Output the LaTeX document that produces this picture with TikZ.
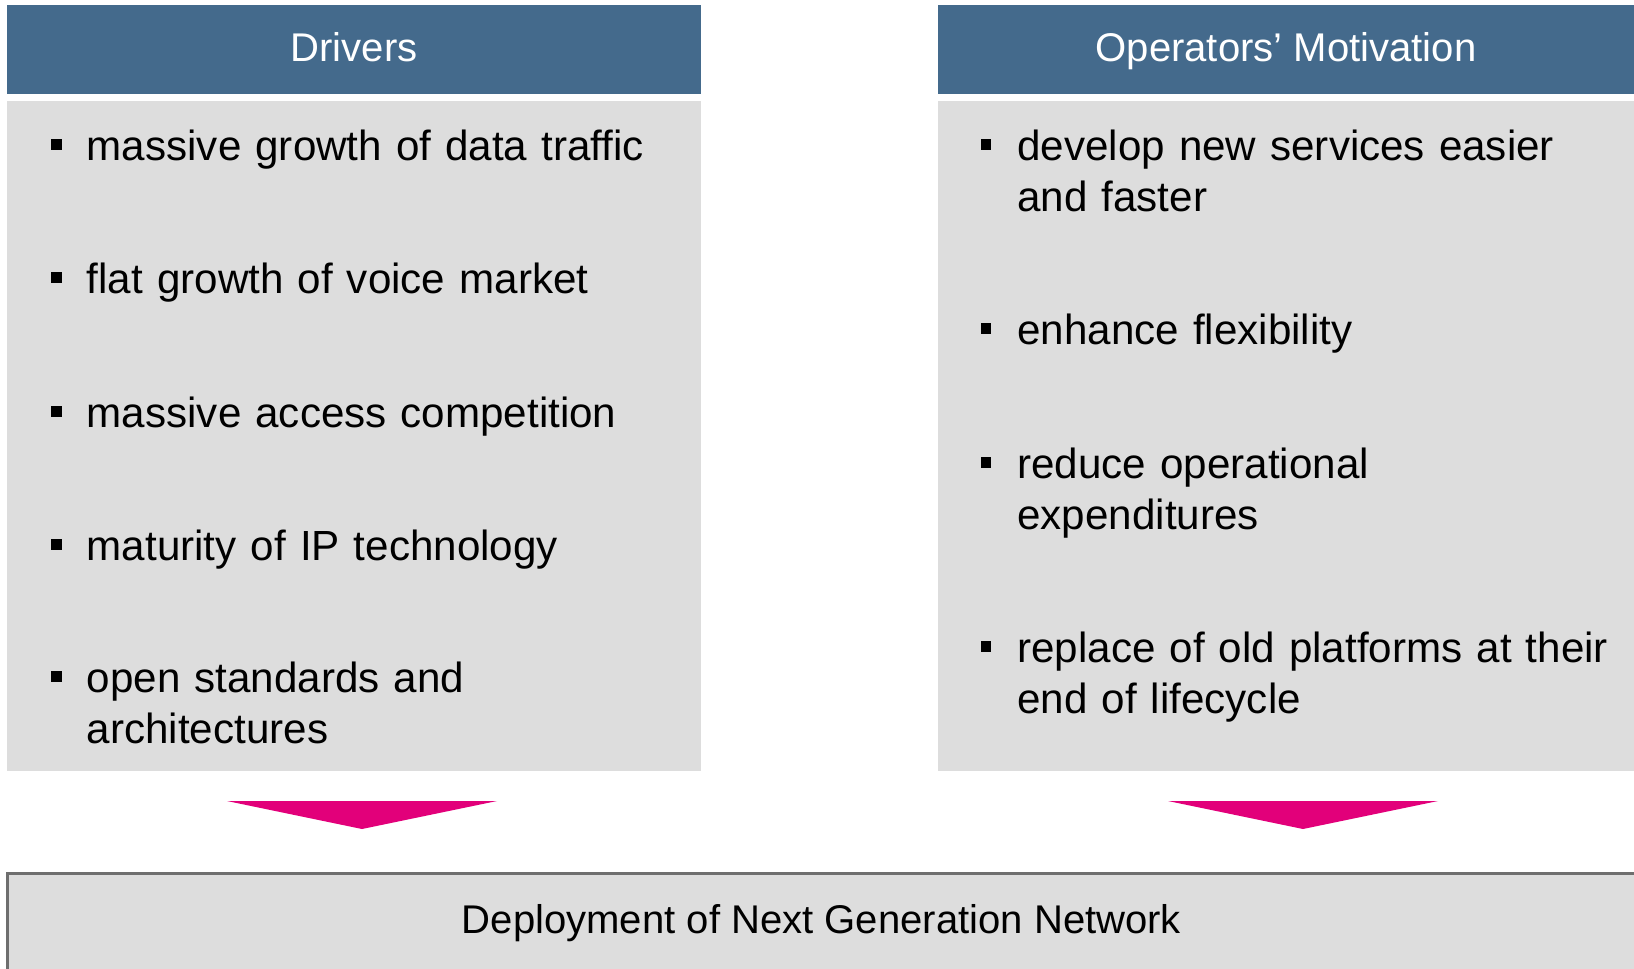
\documentclass[tikz,border=0pt]{standalone}
\usepackage{fontspec}
\setmainfont{Liberation Sans}
\definecolor{hdrblue}{RGB}{68,106,140}
\definecolor{panelgray}{RGB}{221,221,221}
\definecolor{tmagenta}{RGB}{226,0,122}
\definecolor{framegray}{RGB}{110,110,110}
\tikzset{
  header/.style={fill=hdrblue, text=white, inner sep=0pt, minimum height=1.78cm,
    text height=16.4pt, text depth=2.3pt, font=\fontsize{22.8}{27}\selectfont},
  panel/.style={fill=panelgray, inner sep=0pt, minimum height=13.4cm},
  item/.style={anchor=base west, inner sep=0pt, text width=14cm, align=left,
    font=\fontsize{24}{29.5}\selectfont},
  bullet/.style={fill=black, inner sep=0pt, minimum size=0.21cm},
  downarrow/.style={fill=tmagenta},
  final/.style={fill=panelgray, draw=framegray, line width=0.06cm, inner sep=0pt,
    minimum width=32.58cm, minimum height=2cm, font=\fontsize{22.8}{27}\selectfont},
}

\begin{document}
\begin{tikzpicture}[x=0.02cm, y=-0.02cm]
	\useasboundingbox (0,0) rectangle (1634,968);
	\clip (0,0) rectangle (1634,968);
	% headers and panels
	\node[header, minimum width=13.88cm] (drvhead) at (354,49.5) {Drivers};
	\node[header, minimum width=13.92cm] (mothead) at (1286,49.5) {Operators’ Motivation};
	\node[panel, minimum width=13.88cm] (drvbox) at (354,436) {};
	\node[panel, minimum width=13.92cm] (motbox) at (1286,436) {};
	% drivers
	\node[item] (drv1) at (86.5,160) {massive growth of data traffic};
	\node[item] (drv2) at (86.5,293) {flat growth of voice market};
	\node[item] (drv3) at (86.5,427) {massive access competition};
	\node[item] (drv4) at (86.5,560) {maturity of IP technology};
	\node[item] (drv5) at (86.5,692) {open standards and\\architectures};
	\node[bullet] (drvb1) at (56.5,144.5) {};
	\node[bullet] (drvb2) at (56.5,277.5) {};
	\node[bullet] (drvb3) at (56.5,411.5) {};
	\node[bullet] (drvb4) at (56.5,544.5) {};
	\node[bullet] (drvb5) at (56.5,676.5) {};
	% motivation
	\node[item] (mot1) at (1017,160) {develop new services easier\\and faster};
	\node[item] (mot2) at (1017,344) {enhance flexibility};
	\node[item] (mot3) at (1017,478) {reduce operational\\expenditures};
	\node[item] (mot4) at (1017,662) {replace of old platforms at their\\end of lifecycle};
	\node[bullet] (motb1) at (986,144.5) {};
	\node[bullet] (motb2) at (986,328.5) {};
	\node[bullet] (motb3) at (986,462.5) {};
	\node[bullet] (motb4) at (986,646.5) {};
	% arrows down
	\fill[downarrow] (227,801) -- (497,801) -- (362,829) -- cycle;
	\fill[downarrow] (1168,801) -- (1438,801) -- (1303,829) -- cycle;
	% result
	\node[final] (ngn) at (821.5,923.5) {Deployment of Next Generation Network};
\end{tikzpicture}
\end{document}
